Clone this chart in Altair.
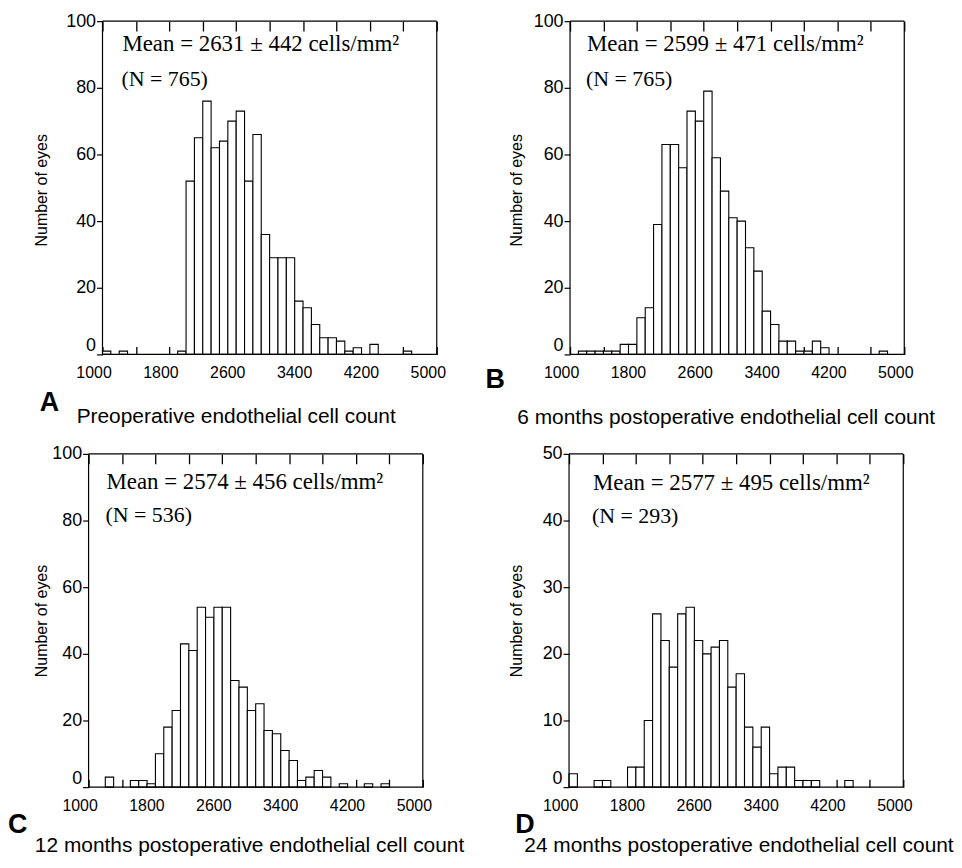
import altair as alt
import pandas as pd

# ---------------- data ----------------
bin_starts = list(range(1000, 5000, 100))   # 100 cells/mm2 bins
bin_width = 100

counts_a = [1, 0, 1, 0, 0, 0, 0, 0, 0, 1,
            52, 65, 76, 62, 64, 70, 73, 52, 66, 36,
            29, 29, 29, 16, 14, 9, 5, 5, 4, 1,
            2, 0, 3, 0, 0, 0, 1, 0, 0, 0]
counts_b = [0, 1, 1, 1, 1, 1, 3, 3, 11, 14,
            39, 63, 63, 56, 73, 70, 79, 59, 49, 41,
            40, 32, 25, 13, 9, 4, 4, 1, 1, 4,
            2, 0, 0, 0, 0, 0, 0, 1, 0, 0]
counts_c = [0, 0, 3, 0, 0, 2, 2, 1, 10, 18,
            23, 43, 41, 54, 51, 54, 54, 32, 30, 23,
            25, 17, 16, 11, 8, 2, 3, 5, 3, 0,
            1, 0, 0, 1, 0, 1, 0, 0, 0, 0]
counts_d = [2, 0, 0, 1, 1, 0, 0, 3, 3, 10,
            26, 22, 18, 26, 27, 22, 20, 21, 22, 15,
            17, 9, 6, 9, 2, 3, 3, 1, 1, 1,
            0, 0, 0, 1, 0, 0, 0, 0, 0, 0]

x_label_values = [1000, 1800, 2600, 3400, 4200, 5000]
inner_tick_values = [1400, 1800, 2200, 2600, 3000, 3400, 3800, 4200, 4600]
y_ticks_100 = [0, 20, 40, 60, 80, 100]
y_ticks_50 = [0, 10, 20, 30, 40, 50]

mean_texts = ["Mean = 2631 \u00b1 442 cells/mm\u00b2",
              "Mean = 2599 \u00b1 471 cells/mm\u00b2",
              "Mean = 2574 \u00b1 456 cells/mm\u00b2",
              "Mean = 2577 \u00b1 495 cells/mm\u00b2"]
n_texts = ["(N = 765)", "(N = 765)", "(N = 536)", "(N = 293)"]
letters = ["A", "B", "C", "D"]
captions = ["Preoperative endothelial cell count",
            "6 months postoperative endothelial cell count",
            "12 months postoperative endothelial cell count",
            "24 months postoperative endothelial cell count"]
y_title = "Number of eyes"

# ---------------- style ----------------
SANS = "Liberation Sans"
SERIF = "Liberation Serif"
H = 335
FRAME_W = 336
BOTTOM_TICK = 10
TOP_TICK = 8

x_axis_values = sorted(set(x_label_values) | set(inner_tick_values))
label_set = ",".join(str(v) for v in x_label_values)


def panel(counts, ymax, yticks, x0, width, mean_text, n_text, letter,
          letter_xy, caption, caption_xy, ann_xy, ytitle_xy):
    df = pd.DataFrame({"start": bin_starts, "count": counts})
    df["end"] = df["start"] + bin_width
    df["base"] = 0
    df = df[df["count"] > 0]

    xs = alt.Scale(domain=[1000, 5000], range=[x0, x0 + FRAME_W], nice=False, zero=False)
    ys = alt.Scale(domain=[0, ymax], nice=False, zero=True)

    # inward ticks (bottom and top) are drawn as dashed grid lines behind the bars
    xaxis = alt.Axis(values=x_axis_values, format="d", title=None,
                     grid=True, gridColor="black", gridOpacity=1, gridWidth=1.3,
                     gridDash=[BOTTOM_TICK, H - BOTTOM_TICK - TOP_TICK, TOP_TICK, 2000],
                     labelExpr="indexof([" + label_set + "], datum.value) >= 0 ? datum.label : ''",
                     domain=False, ticks=False, tickSize=0, labelPadding=10,
                     labelOffset=-9, labelFont=SANS, labelFontSize=16,
                     labelColor="black", labelFlush=False, labelOverlap=False)
    yaxis = alt.Axis(values=yticks, title=None, grid=False, domain=False,
                     ticks=True, tickSize=6, tickColor="black", tickWidth=1.2,
                     labelPadding=1, labelFont=SANS, labelFontSize=18,
                     labelColor="black", offset=-x0, labelFlush=False,
                     labelOverlap=False,
                     labelOffset={"condition": {"test": "datum.value === 0", "value": -9},
                                  "value": 0})

    one = pd.DataFrame({"k": [0]})

    bars = alt.Chart(df).mark_bar(fill="white", stroke="black", strokeWidth=1.1).encode(
        x=alt.X("start:Q", scale=xs, axis=xaxis),
        x2="end:Q",
        y=alt.Y("count:Q", scale=ys, axis=yaxis),
        y2="base:Q",
    )

    fr = dict(color="black", strokeWidth=1.2)
    f_top = alt.Chart(one).mark_rule(**fr).encode(
        x=alt.value(x0), x2=alt.value(x0 + FRAME_W), y=alt.value(0))
    f_bot = alt.Chart(one).mark_rule(**fr).encode(
        x=alt.value(x0), x2=alt.value(x0 + FRAME_W), y=alt.value(H))
    f_left = alt.Chart(one).mark_rule(**fr).encode(
        x=alt.value(x0), y=alt.value(0), y2=alt.value(H))
    f_right = alt.Chart(one).mark_rule(**fr).encode(
        x=alt.value(x0 + FRAME_W), y=alt.value(0), y2=alt.value(H))

    ann1 = alt.Chart(one).mark_text(text=mean_text, align="left", baseline="alphabetic",
                                    font=SERIF, fontSize=23, color="black").encode(
        x=alt.value(ann_xy[0]), y=alt.value(ann_xy[1]))
    ann2 = alt.Chart(one).mark_text(text=n_text, align="left", baseline="alphabetic",
                                    font=SERIF, fontSize=22, color="black").encode(
        x=alt.value(ann_xy[0] - 1), y=alt.value(ann_xy[2]))
    let = alt.Chart(one).mark_text(text=letter, align="left", baseline="alphabetic",
                                   font=SANS, fontSize=27, fontWeight="bold",
                                   color="black").encode(
        x=alt.value(letter_xy[0]), y=alt.value(letter_xy[1]))
    cap = alt.Chart(one).mark_text(text=caption, align="left", baseline="alphabetic",
                                   font=SANS, fontSize=21, color="black").encode(
        x=alt.value(caption_xy[0]), y=alt.value(caption_xy[1]))
    yt = alt.Chart(one).mark_text(text=y_title, angle=270, align="center",
                                  baseline="middle", font=SANS, fontSize=16,
                                  color="black").encode(
        x=alt.value(ytitle_xy[0]), y=alt.value(ytitle_xy[1]))

    return alt.layer(bars, f_top, f_bot, f_left, f_right,
                     ann1, ann2, let, cap, yt).properties(width=width, height=H)


pA = panel(counts_a, 100, y_ticks_100, 14, 350, mean_texts[0], n_texts[0], letters[0],
           (-49, 392), captions[0], (-12, 404), (34, 30, 65), (-47, 170))
pB = panel(counts_b, 100, y_ticks_100, 1, 337, mean_texts[1], n_texts[1], letters[1],
           (-84, 369), captions[1], (-52, 405), (18, 30, 65), (-52, 170))
pC = panel(counts_c, 100, y_ticks_100, 0, 350, mean_texts[2], n_texts[2], letters[2],
           (-81, 381), captions[2], (-54, 400), (18, 35, 68), (-47, 168))
pD = panel(counts_d, 50, y_ticks_50, 0, 337, mean_texts[3], n_texts[3], letters[3],
           (-54, 381), captions[3], (-45, 400), (24, 36, 69), (-52, 168))

chart = alt.concat(pA, pB, pC, pD, columns=2,
                   spacing={"row": 100, "column": 133},
                   bounds="flush").properties(
    padding={"left": 0, "top": 2, "right": 0, "bottom": 0}
).configure_view(stroke=None)

chart.save("out.html", embed_options={"renderer": "svg", "actions": False})
